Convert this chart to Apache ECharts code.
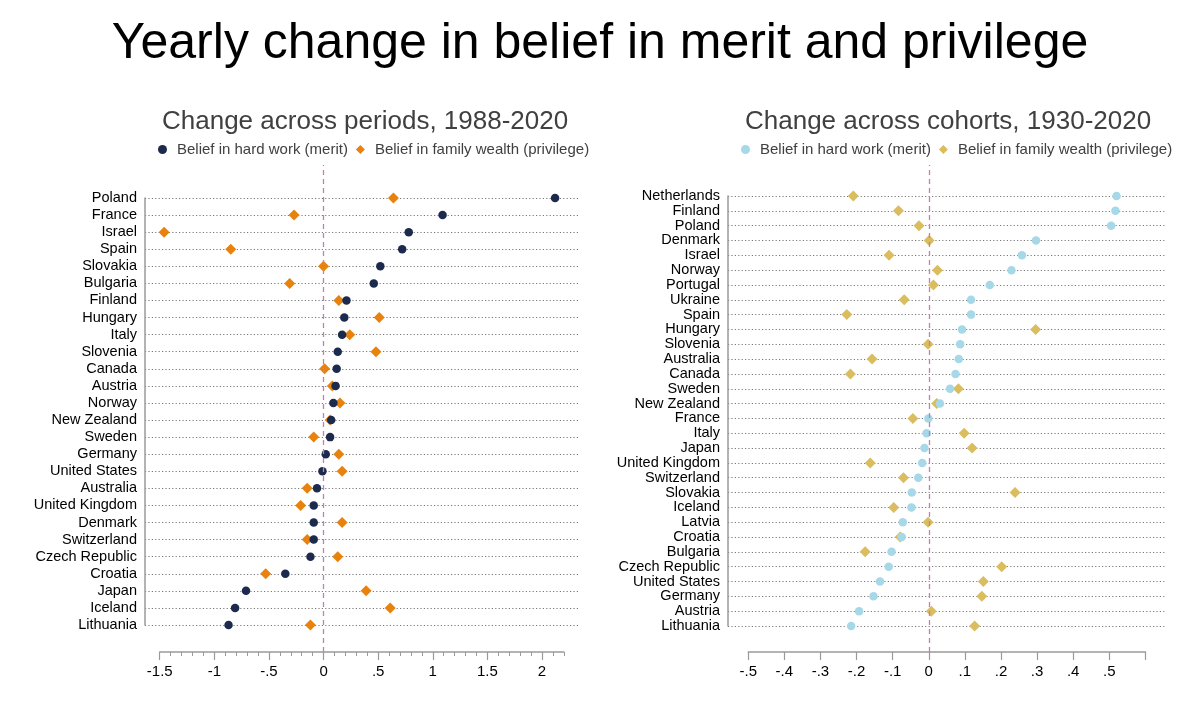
<!DOCTYPE html>
<html>
<head>
<meta charset="utf-8">
<script src="https://cdn.jsdelivr.net/npm/echarts@6/dist/echarts.min.js"></script>
<style>
html,body{margin:0;padding:0;background:#fff;}
#chart{width:1200px;height:720px;}
</style>
</head>
<body>
<div id="chart"></div>
<script>
// ---------------- DATA ----------------
const leftCountries = ['Poland','France','Israel','Spain','Slovakia','Bulgaria','Finland','Hungary','Italy','Slovenia','Canada','Austria','Norway','New Zealand','Sweden','Germany','United States','Australia','United Kingdom','Denmark','Switzerland','Czech Republic','Croatia','Japan','Iceland','Lithuania'];
const leftMerit = [2.12,1.09,0.78,0.72,0.52,0.46,0.21,0.19,0.17,0.13,0.12,0.11,0.09,0.07,0.06,0.02,-0.01,-0.06,-0.09,-0.09,-0.09,-0.12,-0.35,-0.71,-0.81,-0.87];
const leftPrivilege = [0.64,-0.27,-1.46,-0.85,0.00,-0.31,0.14,0.51,0.24,0.48,0.01,0.08,0.15,0.06,-0.09,0.14,0.17,-0.15,-0.21,0.17,-0.15,0.13,-0.53,0.39,0.61,-0.12];

const rightCountries = ['Netherlands','Finland','Poland','Denmark','Israel','Norway','Portugal','Ukraine','Spain','Hungary','Slovenia','Australia','Canada','Sweden','New Zealand','France','Italy','Japan','United Kingdom','Switzerland','Slovakia','Iceland','Latvia','Croatia','Bulgaria','Czech Republic','United States','Germany','Austria','Lithuania'];
const rightMerit = [0.520,0.517,0.505,0.297,0.258,0.229,0.169,0.117,0.117,0.092,0.087,0.083,0.074,0.059,0.031,-0.001,-0.006,-0.012,-0.018,-0.029,-0.047,-0.048,-0.072,-0.075,-0.103,-0.111,-0.135,-0.153,-0.193,-0.215];
const rightPrivilege = [-0.209,-0.084,-0.027,0.001,-0.110,0.024,0.013,-0.068,-0.227,0.296,-0.002,-0.157,-0.217,0.082,0.022,-0.044,0.098,0.120,-0.162,-0.070,0.239,-0.097,-0.002,-0.079,-0.176,0.202,0.151,0.147,0.007,0.127];

const leftMajorTicks = [-1.5,-1,-0.5,0,0.5,1,1.5,2];
const leftTickLabels = ['-1.5','-1','-.5','0','.5','1','1.5','2'];
const leftMinorTicks = [-1.5,-1.4,-1.3,-1.2,-1.1,-1.0,-0.9,-0.8,-0.7,-0.6,-0.5,-0.4,-0.3,-0.2,-0.1,0,0.1,0.2,0.3,0.4,0.5,0.6,0.7,0.8,0.9,1.0,1.1,1.2,1.3,1.4,1.5,1.6,1.7,1.8,1.9,2.0,2.1,2.2];
const rightTicks = [-0.5,-0.4,-0.3,-0.2,-0.1,0,0.1,0.2,0.3,0.4,0.5,0.6];
const rightLabelTicks = [-0.5,-0.4,-0.3,-0.2,-0.1,0,0.1,0.2,0.3,0.4,0.5];
const rightTickLabels = ['-.5','-.4','-.3','-.2','-.1','0','.1','.2','.3','.4','.5'];

const mainTitle = 'Yearly change in belief in merit and privilege';
const leftTitle = 'Change across periods, 1988-2020';
const rightTitle = 'Change across cohorts, 1930-2020';
const meritLabel = 'Belief in hard work (merit)';
const privLabel = 'Belief in family wealth (privilege)';

// ---------------- LAYOUT ----------------
const FONT = '"Liberation Sans", Arial, Helvetica, sans-serif';
const LP = {gl:145, gr:578, top:198, bottom:625, xMin:-1.635, xMax:2.33, aMin:-1.5, aMax:2.2, lineTop:165, axisY:652};
const RP = {gl:728, gr:1166, top:196, bottom:626, xMin:-0.556, xMax:0.657, aMin:-0.5, aMax:0.6, lineTop:165, axisY:652};
function px(P, v){ return P.gl + (v - P.xMin) / (P.xMax - P.xMin) * (P.gr - P.gl); }
function gridA(P){ return {left:P.gl, top:P.top, width:P.gr-P.gl, height:P.bottom-P.top, containLabel:false}; }
function gridB(P){ const l = px(P,P.aMin); return {left:l, top:P.lineTop, width:px(P,P.aMax)-l, height:P.axisY-P.lineTop, containLabel:false}; }
function fmt(vals, labels){ return function(v){ const i = vals.findIndex(t => Math.abs(t - v) < 1e-6); return i >= 0 ? labels[i] : ''; }; }

const AXIS_GRAY = '#9a9a9a';
const DOT_GRAY = '#7a7a7a';
const ZERO_PINK = '#c67fab';
const C_NAVY = '#1c2a4d', C_ORANGE = '#e8820c', C_LBLUE = '#a6d8e7', C_GOLD = '#d9bd5f';

function catAxis(gi, data){
  return {type:'category', gridIndex:gi, data:data, inverse:true, boundaryGap:false, position:'left',
    axisLine:{show:true, onZero:false, lineStyle:{color:AXIS_GRAY, width:1.5}},
    axisTick:{show:false, interval:0},
    axisLabel:{interval:0, margin:8, fontSize:14.5, color:'#000', fontFamily:FONT},
    splitLine:{show:true, interval:0, lineStyle:{type:[1.2,2.2], color:DOT_GRAY, width:1.1}}};
}
const hiddenX = (gi, P) => ({type:'value', gridIndex:gi, min:P.xMin, max:P.xMax, show:false});
const hiddenY = (gi) => ({type:'value', gridIndex:gi, min:0, max:1, show:false});

const legendNames = {'p_merit':meritLabel, 'p_priv':privLabel, 'c_merit':meritLabel, 'c_priv':privLabel};

const option = {
  animation:false,
  backgroundColor:'#fff',
  title:[
    {text:mainTitle, left:'center', top:14, textStyle:{fontSize:50, fontWeight:'normal', color:'#000', fontFamily:FONT}},
    {text:leftTitle, left:157, top:104, textStyle:{fontSize:26, fontWeight:'normal', color:'#404040', fontFamily:FONT}},
    {text:rightTitle, left:740, top:104, textStyle:{fontSize:26, fontWeight:'normal', color:'#404040', fontFamily:FONT}}
  ],
  legend:[
    {left:158, top:142, itemWidth:9, itemHeight:9, itemGap:8, padding:0, selectedMode:false,
     data:[{name:'p_merit', icon:'circle'},{name:'p_priv', icon:'diamond'}],
     formatter:n => legendNames[n],
     textStyle:{fontSize:15, color:'#404040', fontFamily:FONT, padding:[0,0,0,5]}},
    {left:741, top:142, itemWidth:9, itemHeight:9, itemGap:8, padding:0, selectedMode:false,
     data:[{name:'c_merit', icon:'circle'},{name:'c_priv', icon:'diamond'}],
     formatter:n => legendNames[n],
     textStyle:{fontSize:15, color:'#404040', fontFamily:FONT, padding:[0,0,0,5]}}
  ],
  grid:[gridA(LP), gridB(LP), gridA(RP), gridB(RP)],
  xAxis:[
    hiddenX(0, LP),
    {type:'value', gridIndex:1, min:LP.aMin, max:LP.aMax, position:'bottom',
     axisLine:{show:true, onZero:false, lineStyle:{color:AXIS_GRAY, width:1.5}},
     axisTick:{show:true, customValues:leftMinorTicks, length:4, lineStyle:{color:AXIS_GRAY, width:1}},
     axisLabel:{show:false}, splitLine:{show:false}},
    {type:'value', gridIndex:1, min:LP.aMin, max:LP.aMax, position:'bottom',
     axisLine:{show:false, onZero:false},
     axisTick:{show:true, customValues:leftMajorTicks, length:8, lineStyle:{color:AXIS_GRAY, width:1.2}},
     axisLabel:{show:true, customValues:leftMajorTicks, formatter:fmt(leftMajorTicks,leftTickLabels), margin:12, fontSize:15, color:'#000', fontFamily:FONT},
     splitLine:{show:false}},
    hiddenX(2, RP),
    {type:'value', gridIndex:3, min:RP.aMin, max:RP.aMax, position:'bottom',
     axisLine:{show:true, onZero:false, lineStyle:{color:AXIS_GRAY, width:1.5}},
     axisTick:{show:true, customValues:rightTicks, length:8, lineStyle:{color:AXIS_GRAY, width:1.2}},
     axisLabel:{show:true, customValues:rightLabelTicks, formatter:fmt(rightLabelTicks,rightTickLabels), margin:12, fontSize:15, color:'#000', fontFamily:FONT},
     splitLine:{show:false}}
  ],
  yAxis:[catAxis(0, leftCountries), hiddenY(1), catAxis(2, rightCountries), hiddenY(3)],
  series:[
    {type:'scatter', name:'zeroL', xAxisIndex:1, yAxisIndex:1, data:[], silent:true,
     markLine:{silent:true, symbol:'none', label:{show:false}, lineStyle:{type:[5,4], color:ZERO_PINK, width:1.3}, data:[{xAxis:0}]}},
    {type:'scatter', name:'zeroR', xAxisIndex:4, yAxisIndex:3, data:[], silent:true,
     markLine:{silent:true, symbol:'none', label:{show:false}, lineStyle:{type:[5,4], color:ZERO_PINK, width:1.3}, data:[{xAxis:0}]}},
    {type:'scatter', name:'p_priv', xAxisIndex:0, yAxisIndex:0, symbol:'diamond', symbolSize:11,
     itemStyle:{color:C_ORANGE, opacity:1}, data:leftPrivilege.map((v,i)=>[v, leftCountries[i]])},
    {type:'scatter', name:'p_merit', xAxisIndex:0, yAxisIndex:0, symbol:'circle', symbolSize:8.5,
     itemStyle:{color:C_NAVY, opacity:1}, data:leftMerit.map((v,i)=>[v, leftCountries[i]])},
    {type:'scatter', name:'c_priv', xAxisIndex:3, yAxisIndex:2, symbol:'diamond', symbolSize:11,
     itemStyle:{color:C_GOLD, opacity:1}, data:rightPrivilege.map((v,i)=>[v, rightCountries[i]])},
    {type:'scatter', name:'c_merit', xAxisIndex:3, yAxisIndex:2, symbol:'circle', symbolSize:8.5,
     itemStyle:{color:C_LBLUE, opacity:1}, data:rightMerit.map((v,i)=>[v, rightCountries[i]])}
  ]
};
const chart = echarts.init(document.getElementById('chart'));
chart.setOption(option);
</script>
</body>
</html>
